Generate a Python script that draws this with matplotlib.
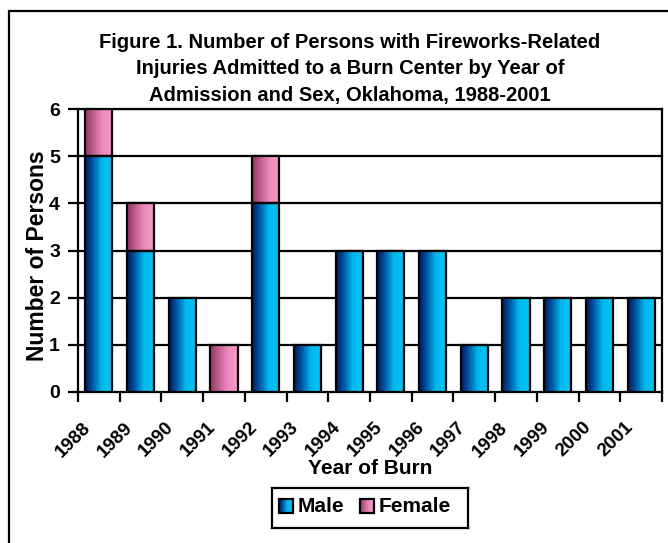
import numpy as np
import matplotlib
matplotlib.use('Agg')
import matplotlib.pyplot as plt
from matplotlib.colors import LinearSegmentedColormap
from matplotlib.patches import Rectangle

plt.rcParams['font.family'] = ['Liberation Sans', 'DejaVu Sans']
plt.rcParams['font.weight'] = 'bold'

years = ['1988', '1989', '1990', '1991', '1992', '1993', '1994',
         '1995', '1996', '1997', '1998', '1999', '2000', '2001']
male = [5, 3, 2, 0, 4, 1, 3, 3, 3, 1, 2, 2, 2, 2]
female = [1, 1, 0, 1, 1, 0, 0, 0, 0, 0, 0, 0, 0, 0]

blue_cm = LinearSegmentedColormap.from_list(
    'blu', [(0, '#001a60'), (0.25, '#0050a0'), (0.6, '#00b8ec'), (1, '#00c6f6')])
pink_cm = LinearSegmentedColormap.from_list(
    'pnk', [(0, '#923462'), (0.3, '#c06090'), (0.65, '#ee8cc0'), (1, '#f698c8')])
grad = np.linspace(0, 1, 64).reshape(1, -1)

fig = plt.figure(figsize=(6.68, 5.43), dpi=100)
ax = fig.add_axes([78/668, 1 - 392/543, (662 - 78)/668, (392 - 109)/543])

width = 0.65
x = np.arange(len(years))


def grad_bar(xc, y0, h, cmap):
    if h <= 0:
        return
    x0 = xc - width/2
    ax.imshow(grad, cmap=cmap, aspect='auto', extent=(x0, x0 + width, y0, y0 + h),
              zorder=3, interpolation='bilinear')
    ax.add_patch(Rectangle((x0, y0), width, h, fill=False, edgecolor='black',
                           linewidth=1.6, zorder=4))


for i in range(len(years)):
    grad_bar(x[i], 0, male[i], blue_cm)
    grad_bar(x[i], male[i], female[i], pink_cm)

ax.set_xlim(-0.5, len(years) - 0.5)
ax.set_ylim(0, 6)
ax.set_yticks(range(7))
ax.set_yticklabels([str(v) for v in range(7)], fontsize=14, fontweight='bold')
for v in range(1, 7):
    ax.axhline(v, color='black', linewidth=1.6, zorder=1)

ax.set_xticks(np.arange(len(years) + 1) - 0.5)
ax.set_xticklabels([])
ax.tick_params(axis='x', direction='out', length=7, width=1.6)
ax.tick_params(axis='y', direction='out', length=7, width=1.6, pad=6)
for s in ax.spines.values():
    s.set_linewidth(1.6)

for i, yr in enumerate(years):
    ax.annotate(yr, xy=(x[i], 0), xycoords='data', xytext=(-12.2, -19.4),
                textcoords='offset points', rotation=45, ha='right', va='top',
                rotation_mode='anchor', fontsize=13.5, fontweight='bold')

fig.text(38/668, 1 - 256/543, 'Number of Persons', rotation=90, ha='center',
         va='center', fontsize=16.5, fontweight='bold')
fig.text(370/668, 1 - 468/543, 'Year of Burn', ha='center', va='center',
         fontsize=15, fontweight='bold')

fig.text(350/668, 1 - 69/543,
         'Figure 1. Number of Persons with Fireworks-Related\n'
         'Injuries Admitted to a Burn Center by Year of\n'
         'Admission and Sex, Oklahoma, 1988-2001',
         ha='center', va='center', fontsize=14.5, fontweight='bold',
         linespacing=1.48)

# legend with gradient swatches
lax = fig.add_axes([272/668, 1 - 528/543, (468 - 272)/668, 40/543])
lax.set_xlim(0, 196)
lax.set_ylim(0, 40)
lax.set_xticks([])
lax.set_yticks([])
for s in lax.spines.values():
    s.set_linewidth(1.6)
for sx, cm, label in [(7, blue_cm, 'Male'), (88, pink_cm, 'Female')]:
    lax.imshow(grad, cmap=cm, aspect='auto', extent=(sx, sx + 14, 15, 29), zorder=2)
    lax.add_patch(Rectangle((sx, 15), 14, 14, fill=False, edgecolor='black',
                            linewidth=1.6, zorder=3))
    lax.text(sx + 19, 22, label, ha='left', va='center', fontsize=15,
             fontweight='bold')

# outer frame
fig.add_artist(Rectangle((9/668, -0.05), 1.2, 1 - 11/543 + 0.05,
                         transform=fig.transFigure, fill=False,
                         edgecolor='black', linewidth=1.6))

fig.savefig('out.png', dpi=100)
